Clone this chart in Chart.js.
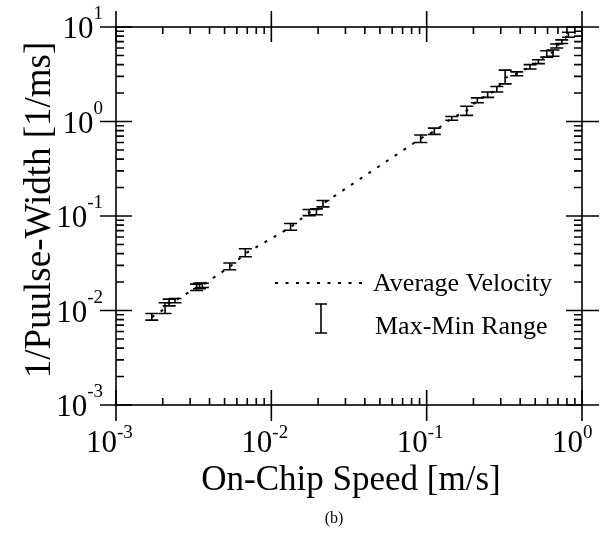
<!DOCTYPE html>
<html>
<head>
<meta charset="utf-8">
<script src="https://cdn.jsdelivr.net/npm/chart.js@4/dist/chart.umd.min.js"></script>
<style>
  html, body { margin: 0; padding: 0; background: #fff; }
</style>
</head>
<body>
<canvas id="speedChart" width="615" height="540"></canvas>
<script>
// on-chip speed [m/s]
const speed = [0.0017, 0.00207, 0.0022, 0.0024, 0.0033, 0.00345, 0.0036, 0.0054, 0.0068,
  0.0133, 0.0175, 0.0195, 0.0215, 0.0915, 0.112, 0.145, 0.181, 0.212, 0.247, 0.283,
  0.32, 0.38, 0.463, 0.524, 0.593, 0.65, 0.687, 0.741, 0.817];
// 1 / pulse width [1/ms]
const avgRate = [0.0085, 0.0105, 0.0122, 0.0127, 0.0175, 0.018, 0.0185, 0.029, 0.040,
  0.076, 0.109, 0.112, 0.135, 0.66, 0.79, 1.08, 1.3, 1.68, 1.9, 2.2,
  2.9, 3.2, 3.8, 4.3, 5.1, 5.4, 6.3, 7.0, 8.3];
const minRate = [0.0079, 0.0093, 0.0112, 0.0121, 0.0163, 0.017, 0.0175, 0.027, 0.037,
  0.0706, 0.101, 0.103, 0.125, 0.60, 0.73, 1.03, 1.16, 1.58, 1.8, 2.05,
  2.5, 3.05, 3.6, 4.1, 4.8, 4.9, 6.0, 6.7, 7.8];
const maxRate = [0.0093, 0.0121, 0.0132, 0.0134, 0.019, 0.0195, 0.0194, 0.0318, 0.045,
  0.0832, 0.117, 0.119, 0.146, 0.72, 0.85, 1.13, 1.45, 1.78, 2.05, 2.35,
  3.5, 3.35, 4.0, 4.5, 5.6, 5.7, 6.6, 7.3, 8.8];

const xDecades = [-3, -2, -1, 0];
const yDecades = [-3, -2, -1, 0, 1];

const SERIF = '"Liberation Serif", "DejaVu Serif", serif';

// min-max error bars, drawn through the chart scales
const errorBars = {
  id: 'errorBars',
  afterDatasetsDraw(chart) {
    const { ctx, scales: { x, y } } = chart;
    ctx.save();
    ctx.strokeStyle = '#000';
    ctx.lineWidth = 1.6;
    speed.forEach((s, i) => {
      const px = x.getPixelForValue(s);
      const top = y.getPixelForValue(maxRate[i]);
      const bot = y.getPixelForValue(minRate[i]);
      ctx.beginPath();
      ctx.moveTo(px, top); ctx.lineTo(px, bot);
      ctx.moveTo(px - 6.5, top); ctx.lineTo(px + 6.5, top);
      ctx.moveTo(px - 6.5, bot); ctx.lineTo(px + 6.5, bot);
      ctx.stroke();
    });
    ctx.restore();
  }
};

function drawPower(ctx, exp, x, y, axis) {
  const base = '10';
  const sup = String(exp);
  ctx.font = '31px ' + SERIF;
  const bw = ctx.measureText(base).width;
  ctx.font = '19px ' + SERIF;
  const sw = ctx.measureText(sup).width;
  ctx.textBaseline = 'alphabetic';
  ctx.textAlign = 'left';
  if (axis === 'x') {
    ctx.font = '31px ' + SERIF;
    ctx.fillText(base, x - bw + 1, y + 47);
    ctx.font = '19px ' + SERIF;
    ctx.fillText(sup, x + 1, y + 33);
  } else {
    const right = x - 13;
    ctx.font = '19px ' + SERIF;
    ctx.fillText(sup, right - sw, y - 8);
    ctx.font = '31px ' + SERIF;
    ctx.fillText(base, right - sw - bw, y + 11);
  }
}

// box frame, mirrored log ticks, labels, titles and legend
const frame = {
  id: 'frame',
  afterDraw(chart) {
    const { ctx, chartArea: a, scales: { x, y } } = chart;
    ctx.save();
    ctx.strokeStyle = '#000';
    ctx.fillStyle = '#000';
    ctx.lineWidth = 1.6;
    ctx.strokeRect(a.left, a.top, a.right - a.left, a.bottom - a.top);

    ctx.beginPath();
    xDecades.forEach(d => {
      const px = x.getPixelForValue(Math.pow(10, d));
      ctx.moveTo(px, a.bottom + 16); ctx.lineTo(px, a.bottom - 15);
      ctx.moveTo(px, a.top - 16); ctx.lineTo(px, a.top + 15);
      if (d < 0) {
        for (let k = 2; k <= 9; k++) {
          const mx = x.getPixelForValue(k * Math.pow(10, d));
          ctx.moveTo(mx, a.bottom); ctx.lineTo(mx, a.bottom - 7);
          ctx.moveTo(mx, a.top); ctx.lineTo(mx, a.top + 7);
        }
      }
    });
    yDecades.forEach(d => {
      const py = y.getPixelForValue(Math.pow(10, d));
      ctx.moveTo(a.left - 16, py); ctx.lineTo(a.left + 16, py);
      ctx.moveTo(a.right - 16, py); ctx.lineTo(a.right + 17, py);
      if (d < 1) {
        for (let k = 2; k <= 9; k++) {
          const my = y.getPixelForValue(k * Math.pow(10, d));
          ctx.moveTo(a.left, my); ctx.lineTo(a.left + 8, my);
          ctx.moveTo(a.right, my); ctx.lineTo(a.right - 8, my);
        }
      }
    });
    ctx.stroke();

    xDecades.forEach(d => drawPower(ctx, d, x.getPixelForValue(Math.pow(10, d)), a.bottom, 'x'));
    yDecades.forEach(d => drawPower(ctx, d, a.left, y.getPixelForValue(Math.pow(10, d)), 'y'));

    // axis titles
    ctx.textAlign = 'center';
    ctx.textBaseline = 'alphabetic';
    ctx.font = '35px ' + SERIF;
    ctx.fillText('On-Chip Speed [m/s]', 351, 490);
    ctx.save();
    ctx.translate(50, 210);
    ctx.rotate(-Math.PI / 2);
    ctx.font = '37px ' + SERIF;
    ctx.fillText('1/Puulse-Width [1/ms]', 0, 0);
    ctx.restore();
    ctx.font = '16px ' + SERIF;
    ctx.fillText('(b)', 334, 523);

    // legend
    ctx.textAlign = 'left';
    ctx.font = '26px ' + SERIF;
    ctx.fillText('Average Velocity', 373, 291);
    ctx.fillText('Max-Min Range', 375, 334);
    ctx.lineWidth = 2;
    ctx.setLineDash([3, 7.5]);
    ctx.beginPath();
    ctx.moveTo(275, 283); ctx.lineTo(364, 283);
    ctx.stroke();
    ctx.setLineDash([]);
    ctx.lineWidth = 1.6;
    ctx.beginPath();
    ctx.moveTo(321, 304); ctx.lineTo(321, 333);
    ctx.moveTo(315, 304); ctx.lineTo(327, 304);
    ctx.moveTo(315, 333); ctx.lineTo(327, 333);
    ctx.stroke();
    ctx.restore();
  }
};

new Chart(document.getElementById('speedChart').getContext('2d'), {
  type: 'scatter',
  data: {
    datasets: [{
      label: 'Average Velocity',
      data: speed.map((s, i) => ({ x: s, y: avgRate[i] })),
      showLine: true,
      borderColor: '#000',
      borderWidth: 2,
      borderDash: [3, 7.5],
      pointRadius: 0,
      tension: 0
    }]
  },
  options: {
    responsive: false,
    animation: false,
    devicePixelRatio: 1,
    layout: { padding: { left: 116, right: 33, top: 27, bottom: 135 } },
    plugins: { legend: { display: false }, tooltip: { enabled: false } },
    scales: {
      x: { type: 'logarithmic', min: 0.001, max: 1, display: false },
      y: { type: 'logarithmic', min: 0.001, max: 10, display: false }
    }
  },
  plugins: [errorBars, frame]
});
</script>
</body>
</html>
